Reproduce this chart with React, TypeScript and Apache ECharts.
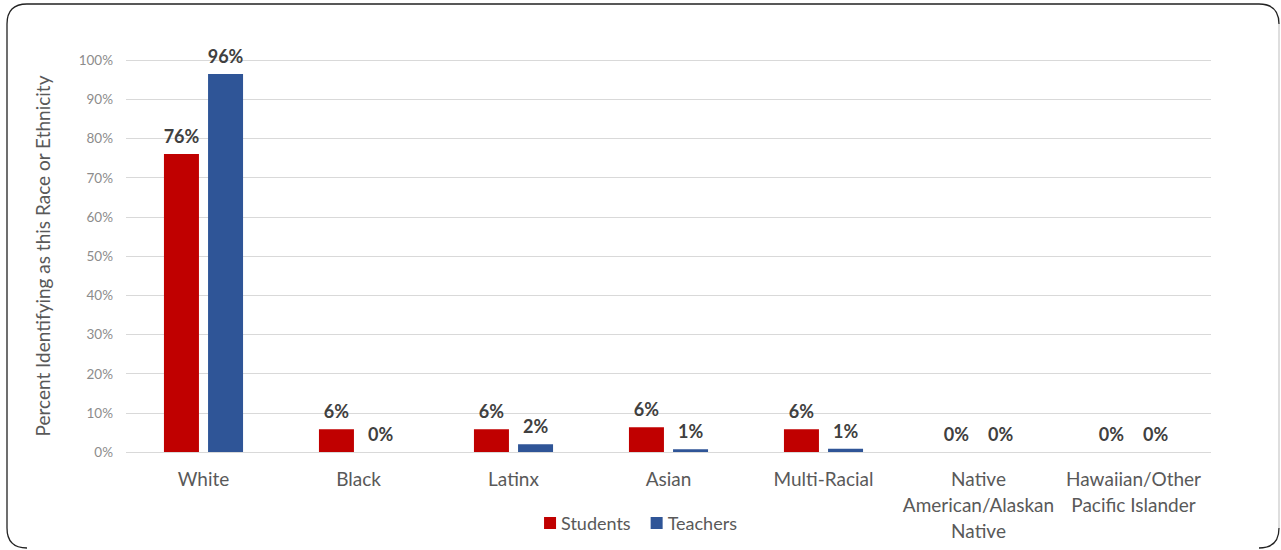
import React, { useEffect, useRef } from "react";
import * as echarts from "echarts";

const categories = [
  "White",
  "Black",
  "Latinx",
  "Asian",
  "Multi-Racial",
  "Native\nAmerican/Alaskan\nNative",
  "Hawaiian/Other\nPacific Islander",
];
const students = [76, 5.8, 5.8, 6.3, 5.8, 0, 0];
const teachers = [96.4, 0, 2, 0.7, 0.8, 0, 0];
const yTicks = [0, 10, 20, 30, 40, 50, 60, 70, 80, 90, 100];

const FONT = "Lato, 'Open Sans', sans-serif";

echarts.graphic.registerShape(
  "frameDark",
  echarts.graphic.extendPath(
    "M 7 528 L 7 24 Q 7 4 27 4 L 1259 4 Q 1279 4 1279 24 M 7 528 Q 7 548 27 548 M 1279 528 Q 1279 548 1259 548",
    {}
  )
);

export default function App() {
  const ref = useRef<HTMLDivElement>(null);
  useEffect(() => {
    const chart = echarts.init(ref.current!, null, { renderer: "svg" });
    const labelFmt = (p: any) => Math.round(p.value) + "%";
    const dataLabel = {
      show: true,
      position: "top",
      distance: 9,
      formatter: labelFmt,
      fontSize: 18,
      fontWeight: "bold",
      color: "#404040",
      fontFamily: FONT,
    };
    chart.setOption({
      animation: false,
      backgroundColor: "#fff",
      textStyle: { fontFamily: FONT },
      graphic: [
        {
          type: "line",
          shape: { x1: 1279, y1: 24, x2: 1279, y2: 528 },
          style: { stroke: "#c8c8c8", lineWidth: 1.2 },
          silent: true,
        },
        {
          type: "frameDark",
          x: 0,
          y: 0,
          style: { stroke: "#222", fill: null, lineWidth: 1.3 },
          silent: true,
        },
      ],
      grid: { left: 126, right: 70, top: 60, bottom: 98, containLabel: false },
      legend: {
        bottom: 13,
        left: "center",
        itemWidth: 12,
        itemHeight: 12,
        itemGap: 20,
        icon: "rect",
        textStyle: { fontSize: 18, color: "#595959", fontFamily: FONT },
        data: ["Students", "Teachers"],
      },
      xAxis: {
        type: "category",
        data: categories,
        axisLine: { show: false },
        axisTick: { show: false },
        axisLabel: {
          fontSize: 19,
          color: "#595959",
          lineHeight: 26,
          margin: 13,
          interval: 0,
          fontFamily: FONT,
        },
      },
      yAxis: {
        type: "value",
        min: 0,
        max: 100,
        interval: 10,
        name: "Percent Identifying as this Race or Ethnicity",
        nameLocation: "middle",
        nameGap: 74,
        nameTextStyle: { fontSize: 19, color: "#595959", fontFamily: FONT },
        axisLine: { show: false },
        axisTick: { show: false },
        axisLabel: {
          fontSize: 13.5,
          color: "#8c8c8c",
          margin: 13,
          formatter: (v: number) => (yTicks.includes(v) ? v + "%" : ""),
          fontFamily: FONT,
        },
        splitLine: { lineStyle: { color: "#d9d9d9", width: 1 } },
      },
      series: [
        {
          name: "Students",
          type: "bar",
          data: students,
          barWidth: 35,
          barGap: "26%",
          itemStyle: { color: "#C00000" },
          label: dataLabel,
        },
        {
          name: "Teachers",
          type: "bar",
          data: teachers,
          barWidth: 35,
          itemStyle: { color: "#2F5597" },
          label: dataLabel,
        },
      ],
    });
    return () => chart.dispose();
  }, []);
  return (
    <div style={{ position: "fixed", left: 0, top: 0 }}>
      <div ref={ref} style={{ width: 1281, height: 550 }} />
    </div>
  );
}
